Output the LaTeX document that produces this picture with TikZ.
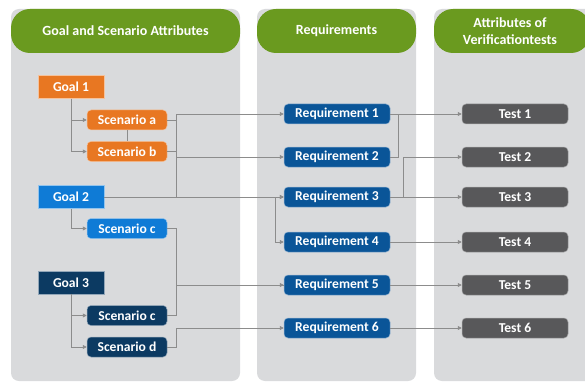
\documentclass[tikz,border=0pt]{standalone}
\usepackage{fontspec}
\setmainfont{Carlito}
\usetikzlibrary{arrows.meta}

\definecolor{panelgray}{HTML}{D9DADC}
\definecolor{headgreen}{HTML}{6A9A1F}
\definecolor{goalorange}{HTML}{E87722}
\definecolor{goalblue}{HTML}{0F7BD6}
\definecolor{goalnavy}{HTML}{0C3A62}
\definecolor{reqblue}{HTML}{0A5598}
\definecolor{testgray}{HTML}{58585A}
\definecolor{linegray}{HTML}{8C8C8C}

\tikzset{
  box/.style={inner sep=0pt, text=white, line width=0.5pt, font=\fontsize{13.6}{15}\selectfont\bfseries, minimum height=20pt},
  goalbox/.style={box, minimum width=66pt, minimum height=23pt, draw=white!55!#1, fill=#1},
  scenbox/.style={box, rounded corners=4pt, minimum width=80pt, draw=white!55!#1, fill=#1},
  reqbox/.style={box, rounded corners=4pt, minimum width=106pt, draw=white!55!reqblue, fill=reqblue},
  testbox/.style={box, rounded corners=4pt, minimum width=106pt, draw=white!45!testgray, fill=testgray},
  headtext/.style={text=white, align=center, font=\fontsize{14}{16.5}\selectfont\bfseries},
  line/.style={draw=linegray, line width=0.8pt},
  conn/.style={line, -{Triangle[width=4pt,length=4pt]}}
}

\begin{document}
\begin{tikzpicture}[x=1pt,y=1pt,yscale=-1,xscale=1]
\useasboundingbox (0,0) rectangle (585,382);

%Panels
\fill[panelgray, rounded corners=8pt] (11,9) rectangle (240,381);
\fill[panelgray, rounded corners=8pt] (257,9) rectangle (416,381);
\fill[panelgray, rounded corners=8pt] (434,9) rectangle (600,381);

%Headers
\fill[headgreen, rounded corners=19pt] (11,9) rectangle (240,53);
\fill[headgreen, rounded corners=19pt] (257,9) rectangle (416,53);
\fill[headgreen, rounded corners=19pt] (434,9) rectangle (590,53);

% Text Node
\draw (125.5,31) node [headtext] (h1) {Goal and Scenario Attributes};
% Text Node
\draw (336.5,31) node [headtext] (h2) {Requirements};
% Text Node
\draw (510,31) node [headtext] (h3) {Attributes of\\Verificationtests};

%Goals and scenarios
\draw (71,87) node [goalbox=goalorange] (g1) {Goal 1};
\draw (127,120) node [scenbox=goalorange] (sa) {Scenario a};
\draw (127,151.5) node [scenbox=goalorange] (sb) {Scenario b};
\draw (71,197) node [goalbox=goalblue] (g2) {Goal 2};
\draw (127,228.5) node [scenbox=goalblue] (sc) {Scenario c};
\draw (71,282.5) node [goalbox=goalnavy] (g3) {Goal 3};
\draw (127,315.5) node [scenbox=goalnavy] (scc) {Scenario c};
\draw (127,347) node [scenbox=goalnavy] (sd) {Scenario d};

%Requirements
\draw (337,114) node [reqbox] (r1) {Requirement 1};
\draw (337,157) node [reqbox] (r2) {Requirement 2};
\draw (337,197) node [reqbox] (r3) {Requirement 3};
\draw (337,242) node [reqbox] (r4) {Requirement 4};
\draw (337,285) node [reqbox] (r5) {Requirement 5};
\draw (337,328) node [reqbox] (r6) {Requirement 6};

%Tests
\draw (515,114) node [testbox] (t1) {Test 1};
\draw (515,157) node [testbox] (t2) {Test 2};
\draw (515,197) node [testbox] (t3) {Test 3};
\draw (515,242) node [testbox] (t4) {Test 4};
\draw (515,285) node [testbox] (t5) {Test 5};
\draw (515,328) node [testbox] (t6) {Test 6};

%Connectors goals to scenarios
\draw [conn] (g1.south) |- (sa.west);
\draw [conn] (g1.south) |- (sb.west);
\draw [line] (sa.south) -- (sb.north);
\draw [conn] (g2.south) |- (sc.west);
\draw [conn] (g3.south) |- (scc.west);
\draw [conn] (g3.south) |- (sd.west);

%Connectors scenarios to requirements
\draw [conn] (sa.east) -- ++(9,0) |- (r1.west);
\draw [conn] (sb.east) -- ++(9,0) |- (r2.west);
\draw [conn] (sa.east) -- ++(9,0) |- (r3.west);
\draw [conn] (g2.east) -- (r3.west);
\draw [conn] (g2.east) -| ([xshift=-8pt]r4.west) -- (r4.west);
\draw [conn] (sc.east) -- ++(9,0) |- (r5.west);
\draw [line] (scc.east) -- ++(9,0) |- (r5.west);
\draw [conn] (sd.east) -- ++(9,0) |- (r6.west);

%Connectors requirements to tests
\draw [conn] (r1) -- (t1);
\draw [line] (r2.east) -- ++(8,0) |- (r1.east);
\draw [conn] (r3) -- (t3);
\draw [conn] (r3.east) -- ++(13,0) |- (t2.west);
\draw [conn] (r4) -- (t4);
\draw [conn] (r5) -- (t5);
\draw [conn] (r6) -- (t6);

\end{tikzpicture}
\end{document}
